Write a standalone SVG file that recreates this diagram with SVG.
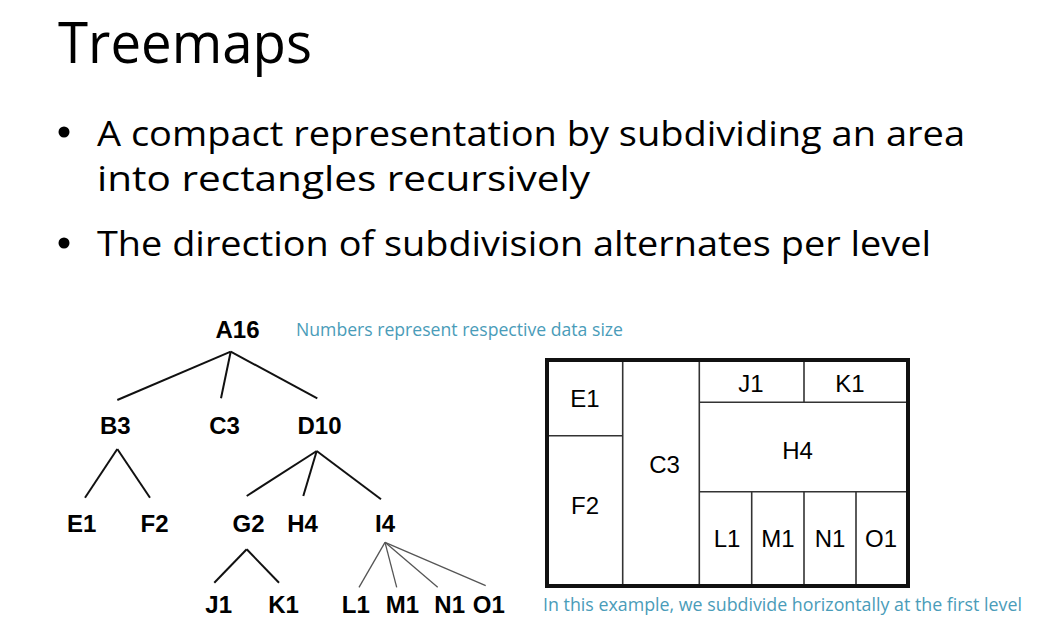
<svg xmlns="http://www.w3.org/2000/svg" width="1044" height="637" viewBox="0 0 1044 637">
<style>
.slide{font-family:"Open Sans","Noto Sans",sans-serif;fill:#000}
.note{font-family:"Open Sans","Noto Sans",sans-serif;fill:#4a9cb9;font-size:18px}
.tn{font-family:"Liberation Sans",Arial,sans-serif;font-weight:bold;font-size:24px;fill:#000;text-anchor:middle}
.tm{font-family:"Liberation Sans",Arial,sans-serif;font-size:24px;fill:#000;text-anchor:middle}
.e{stroke:#111;stroke-width:2;fill:none}
.e2{stroke:#555;stroke-width:1.3;fill:none}
.cell{stroke:#333;stroke-width:1.6;fill:none}
</style>
<rect width="1044" height="637" fill="#fff"/>
<g id="title">
<text class="slide" x="58" y="63" font-size="56" textLength="254" lengthAdjust="spacingAndGlyphs">Treemaps</text>
</g>
<g id="bullets">
<circle cx="64" cy="132" r="5.5" fill="#000"/>
<text class="slide" x="97" y="146" font-size="34" textLength="868" lengthAdjust="spacingAndGlyphs">A compact representation by subdividing an area</text>
<text class="slide" x="97" y="191" font-size="34" textLength="493" lengthAdjust="spacingAndGlyphs">into rectangles recursively</text>
<circle cx="64" cy="243" r="5.5" fill="#000"/>
<text class="slide" x="97" y="256" font-size="34" textLength="834" lengthAdjust="spacingAndGlyphs">The direction of subdivision alternates per level</text>
</g>
<g id="connectors">
<line class="e" x1="230.7" y1="351.7" x2="117.3" y2="400"/>
<line class="e" x1="230.7" y1="351.7" x2="221" y2="398.3"/>
<line class="e" x1="230.7" y1="351.7" x2="317.3" y2="398.3"/>
<line class="e" x1="117.3" y1="449" x2="85" y2="497.7"/>
<line class="e" x1="117.3" y1="449" x2="150" y2="497.7"/>
<line class="e" x1="316.7" y1="451" x2="246.7" y2="496"/>
<line class="e" x1="316.7" y1="451" x2="303.3" y2="496"/>
<line class="e" x1="316.7" y1="451" x2="381" y2="499.3"/>
<line class="e" x1="246.7" y1="549.3" x2="214.3" y2="582.7"/>
<line class="e" x1="246.7" y1="549.3" x2="279" y2="582.7"/>
<line class="e2" x1="385" y1="542.3" x2="359" y2="587.3"/>
<line class="e2" x1="385" y1="542.3" x2="396.7" y2="587.3"/>
<line class="e2" x1="385" y1="542.3" x2="437.7" y2="587.3"/>
<line class="e2" x1="385" y1="542.3" x2="485.7" y2="585.7"/>
</g>
<g id="node-A16"><text class="tn" x="237.5" y="338">A16</text></g>
<g id="node-B3"><text class="tn" x="115.3" y="434">B3</text></g>
<g id="node-C3"><text class="tn" x="224.5" y="434">C3</text></g>
<g id="node-D10"><text class="tn" x="319.5" y="434">D10</text></g>
<g id="node-E1"><text class="tn" x="81.7" y="532">E1</text></g>
<g id="node-F2"><text class="tn" x="154.5" y="532">F2</text></g>
<g id="node-G2"><text class="tn" x="248.5" y="532">G2</text></g>
<g id="node-H4"><text class="tn" x="302.5" y="532">H4</text></g>
<g id="node-I4"><text class="tn" x="385" y="532">I4</text></g>
<g id="node-J1"><text class="tn" x="218.7" y="613">J1</text></g>
<g id="node-K1"><text class="tn" x="283.5" y="613">K1</text></g>
<g id="node-L1"><text class="tn" x="355.8" y="613">L1</text></g>
<g id="node-M1"><text class="tn" x="402.5" y="613">M1</text></g>
<g id="node-N1"><text class="tn" x="449.7" y="613">N1</text></g>
<g id="node-O1"><text class="tn" x="488.8" y="613">O1</text></g>
<g id="note-top"><text class="note" x="296" y="336" textLength="327" lengthAdjust="spacingAndGlyphs">Numbers represent respective data size</text></g>
<g id="treemap">
<line class="cell" x1="622.7" y1="360" x2="622.7" y2="586"/>
<line class="cell" x1="547" y1="435.7" x2="622.7" y2="435.7"/>
<line class="cell" x1="699.3" y1="360" x2="699.3" y2="586" stroke-width="2.2"/>
<line class="cell" x1="699.3" y1="402.3" x2="908" y2="402.3"/>
<line class="cell" x1="804" y1="360" x2="804" y2="402.3"/>
<line class="cell" x1="699.3" y1="491.7" x2="908" y2="491.7"/>
<line class="cell" x1="751.7" y1="491.7" x2="751.7" y2="586"/>
<line class="cell" x1="804" y1="491.7" x2="804" y2="586"/>
<line class="cell" x1="856" y1="491.7" x2="856" y2="586"/>
<rect x="547" y="360" width="361" height="226" fill="none" stroke="#111" stroke-width="4"/>
<text class="tm" x="585" y="407">E1</text>
<text class="tm" x="585" y="514">F2</text>
<text class="tm" x="664.5" y="472.5">C3</text>
<text class="tm" x="751" y="392">J1</text>
<text class="tm" x="850" y="392">K1</text>
<text class="tm" x="797.5" y="459">H4</text>
<text class="tm" x="727" y="546.5">L1</text>
<text class="tm" x="778" y="546.5">M1</text>
<text class="tm" x="830" y="546.5">N1</text>
<text class="tm" x="881" y="546.5">O1</text>
</g>
<g id="note-bottom"><text class="note" x="543" y="611" textLength="479" lengthAdjust="spacingAndGlyphs">In this example, we subdivide horizontally at the first level</text></g>
</svg>
